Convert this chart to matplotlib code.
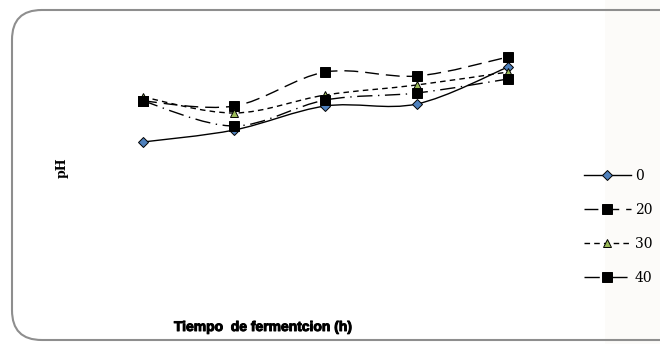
import numpy as np
import matplotlib
matplotlib.use("Agg")
import matplotlib.pyplot as plt
import matplotlib.patheffects as pe
from matplotlib.path import Path
from matplotlib.patches import PathPatch, FancyBboxPatch, Rectangle
from matplotlib.lines import Line2D

# Data (pH, no axis printed)
hours = [0, 12, 24, 36, 48]
ph_0 = [4.08, 4.20, 4.44, 4.46, 4.83]
ph_20 = [4.49, 4.44, 4.78, 4.74, 4.93]
ph_30 = [4.53, 4.37, 4.55, 4.65, 4.78]
ph_40 = [4.49, 4.24, 4.50, 4.57, 4.71]
labels = ["0", "20", "30", "40"]


def smooth_path(x, y):
    # Catmull-Rom control points turned into cubic Bezier segments
    pts = np.column_stack([x, y]).astype(float)
    verts = [pts[0]]
    codes = [Path.MOVETO]
    n = len(pts)
    for i in range(n - 1):
        p0 = pts[i - 1] if i > 0 else pts[i]
        p1 = pts[i]
        p2 = pts[i + 1]
        p3 = pts[i + 2] if i + 2 < n else pts[i + 1]
        c1 = p1 + (p2 - p0) / 6.0
        c2 = p2 - (p3 - p1) / 6.0
        verts += [c1, c2, p2]
        codes += [Path.CURVE4] * 3
    return Path(verts, codes)


fig = plt.figure(figsize=(6.6, 3.44), dpi=100)

# Rounded chart frame, with faint shading on the right
fig.patches.append(Rectangle((605 / 660, 0), 55 / 660, 1, transform=fig.transFigure,
                             facecolor="#fcfbf9", edgecolor="none", zorder=-2))
frame = FancyBboxPatch((12 / 660, 4 / 344), 700 / 660, 330 / 344,
                       boxstyle="round,pad=0,rounding_size=0.045",
                       transform=fig.transFigure, facecolor="none",
                       edgecolor="#8e8e8e", linewidth=1.5, mutation_aspect=660 / 344,
                       zorder=-1)
fig.patches.append(frame)

ax = fig.add_axes([110 / 660, 1 - 300 / 344, 430 / 660, 270 / 344])
ax.set_xlim(-4.34, 52.21)
ax.set_ylim(2.5, 5.2)
ax.axis("off")

series = [
    (ph_0, "-", "D", "#4f81bd", 5),
    (ph_20, (0, (10, 5)), "s", "black", 7),
    (ph_30, (0, (4, 3)), "^", "#9bbb59", 6),
    (ph_40, (0, (11, 4, 1, 4)), "s", "black", 7),
]

handles = []
for (vals, ls, mk, fc, ms), lab in zip(series, labels):
    ax.add_patch(PathPatch(smooth_path(hours, vals), facecolor="none",
                           edgecolor="black", linewidth=1.0, linestyle=ls))
    ax.plot(hours, vals, linestyle="none", marker=mk, markersize=ms,
            markerfacecolor=fc, markeredgecolor="black", markeredgewidth=0.7)
    handles.append(Line2D([], [], color="black", linewidth=1.0, linestyle=ls,
                          marker=mk, markersize=ms, markerfacecolor=fc,
                          markeredgecolor="black", markeredgewidth=0.7))

fig.legend(handles, labels, loc="center left", bbox_to_anchor=(571 / 660, 1 - 227 / 344),
           frameon=False, handlelength=3.4, handletextpad=0.3, labelspacing=1.45,
           prop={"family": "DejaVu Serif", "size": 10})

fig.text(263 / 660, 1 - 327 / 344, "Tiempo  de fermentcion (h)", ha="center", va="center",
         fontsize=10, fontweight="bold", family="Liberation Sans",
         path_effects=[pe.withStroke(linewidth=0.7, foreground="black")])
fig.text(62 / 660, 1 - 168 / 344, "pH", ha="center", va="center", rotation=90,
         fontsize=9, fontweight="bold", family="DejaVu Serif")

fig.savefig("out.png", dpi=100)
